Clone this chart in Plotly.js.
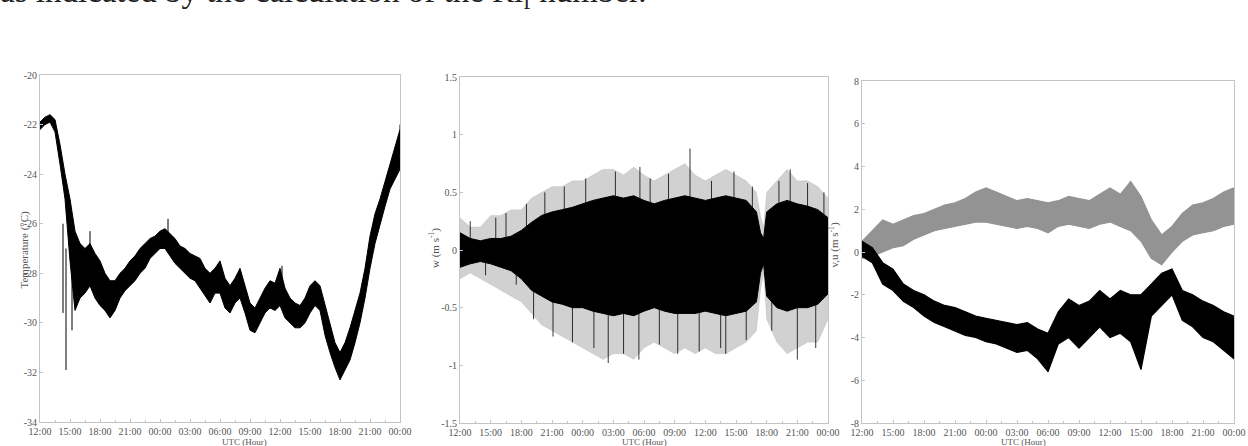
<!DOCTYPE html>
<html><head><meta charset="utf-8">
<script src="https://cdn.plot.ly/plotly-3.0.1.min.js"></script>
<style>html,body{margin:0;padding:0;background:#fff;overflow:hidden;} #chart{width:1248px;height:446px;}</style>
</head><body><div id="chart"></div>
<script>
// ---- shared time axis (hours after 12:00 UTC on day 1) ----
const tickHours = [0,3,6,9,12,15,18,21,24,27,30,33,36];
const tickLabels = ["12:00","15:00","18:00","21:00","00:00","03:00","06:00","09:00","12:00","15:00","18:00","21:00","00:00"];

// ---- panel 1: temperature envelope ----
const tHours = [0,0.5,1,1.5,2,2.5,3,3.5,4,4.5,5,5.5,6,6.5,7,7.5,8,8.5,9,9.5,10,10.5,11,11.5,12,12.5,13,13.5,14,14.5,15,15.5,16,16.5,17,17.5,18,18.5,19,19.5,20,20.5,21,21.5,22,22.5,23,23.5,24,24.5,25,25.5,26,26.5,27,27.5,28,28.5,29,29.5,30,30.5,31,31.5,32,32.5,33,33.5,34,34.5,35,35.5,36];
const tempHigh = [-21.9,-21.7,-21.6,-21.8,-22.8,-24.0,-25.0,-26.3,-26.8,-27.0,-26.8,-27.2,-27.5,-28.0,-28.3,-28.3,-28.0,-27.8,-27.5,-27.3,-27.0,-26.8,-26.6,-26.5,-26.3,-26.2,-26.4,-26.6,-26.9,-27.0,-27.2,-27.3,-27.4,-27.8,-28.0,-27.8,-27.5,-28.2,-28.5,-28.2,-27.8,-28.5,-29.2,-29.4,-29.0,-28.6,-28.3,-28.4,-27.8,-28.6,-29.0,-29.2,-29.3,-29.0,-28.5,-28.3,-28.5,-29.3,-30.0,-30.8,-31.2,-30.8,-30.2,-29.5,-28.8,-27.8,-26.5,-25.6,-25.0,-24.3,-23.6,-23.0,-22.2];
const tempLow  = [-22.2,-22.0,-21.9,-22.3,-23.6,-25.0,-27.5,-29.5,-29.0,-28.8,-28.5,-29.0,-29.3,-29.5,-29.8,-29.5,-29.0,-28.7,-28.5,-28.3,-28.0,-27.8,-27.4,-27.2,-27.0,-27.0,-27.3,-27.6,-27.8,-28.0,-28.2,-28.3,-28.6,-28.9,-29.2,-28.8,-28.8,-29.4,-29.6,-29.2,-29.0,-29.6,-30.3,-30.4,-30.0,-29.6,-29.4,-29.5,-29.3,-29.8,-30.0,-30.2,-30.2,-30.0,-29.6,-29.3,-29.5,-30.5,-31.2,-31.8,-32.3,-31.9,-31.5,-30.8,-30.0,-29.0,-27.8,-26.8,-26.0,-25.3,-24.6,-24.2,-23.8];
const tempSpikeHours = [2.3,2.6,3.2,5.0,12.8,24.2,36];
const tempSpikeFrom  = [-26.0,-27.0,-28.0,-27.0,-26.5,-28.5,-23.0];
const tempSpikeTo    = [-29.6,-31.9,-30.3,-26.3,-25.8,-27.7,-22.0];
const tempTicks = [-20,-22,-24,-26,-28,-30,-32,-34];
const tempTickLabels = ["-20","-22","-24","-26","-28","-30","-32","-34"];

// ---- panel 2: vertical velocity w ----
const wHours = [0,1,2,3,4,5,6,7,8,9,10,11,12,13,14,15,16,17,18,19,20,21,22,23,24,25,26,27,28,29,29.4,29.7,30,31,32,33,34,35,36];
const wCoreHigh = [0.15,0.10,0.08,0.10,0.10,0.12,0.17,0.24,0.30,0.33,0.35,0.37,0.40,0.43,0.45,0.47,0.45,0.47,0.43,0.40,0.43,0.45,0.47,0.45,0.43,0.45,0.47,0.45,0.43,0.33,0.15,0.10,0.33,0.40,0.43,0.40,0.38,0.35,0.28];
const wCoreLow  = [-0.15,-0.12,-0.10,-0.12,-0.15,-0.18,-0.25,-0.35,-0.40,-0.45,-0.47,-0.50,-0.50,-0.53,-0.55,-0.57,-0.55,-0.57,-0.53,-0.50,-0.53,-0.55,-0.55,-0.55,-0.53,-0.55,-0.57,-0.55,-0.53,-0.45,-0.20,-0.12,-0.40,-0.50,-0.53,-0.50,-0.50,-0.47,-0.38];
const wOuterHigh = [0.28,0.20,0.20,0.30,0.30,0.35,0.35,0.45,0.50,0.55,0.55,0.60,0.60,0.65,0.70,0.70,0.65,0.72,0.65,0.60,0.65,0.70,0.75,0.65,0.60,0.65,0.70,0.65,0.60,0.50,0.30,0.20,0.50,0.60,0.70,0.60,0.60,0.55,0.45];
const wOuterLow  = [-0.25,-0.20,-0.25,-0.30,-0.35,-0.40,-0.45,-0.55,-0.65,-0.70,-0.75,-0.80,-0.85,-0.90,-0.95,-0.90,-0.90,-0.95,-0.85,-0.80,-0.85,-0.90,-0.85,-0.90,-0.85,-0.90,-0.90,-0.85,-0.80,-0.70,-0.35,-0.20,-0.60,-0.80,-0.90,-0.85,-0.80,-0.80,-0.60];
const wSpikeHours = [1.0,2.5,3.5,4.5,5.5,6.5,7.2,8.3,9.1,10.2,11.0,12.3,13.1,14.5,15.2,16.0,17.5,17.6,18.6,19.5,20.4,21.3,22.5,23.4,24.6,25.5,26.0,26.8,28.0,28.6,30.5,31.2,32.3,33.0,34.0,34.8,35.6];
const wSpikeTip   = [0.25,-0.22,0.28,0.32,-0.30,0.40,-0.60,0.50,-0.75,0.55,-0.80,0.62,-0.85,-0.98,0.68,-0.90,-0.95,0.72,0.62,-0.82,0.66,-0.90,0.88,-0.88,0.60,-0.85,-0.90,0.68,-0.78,0.55,-0.70,0.60,0.70,-0.95,0.58,-0.85,0.50];
const wTicks = [1.5,1,0.5,0,-0.5,-1,-1.5];
const wTickLabels = ["1.5","1","0.5","0","-0.5","-1","-1.5"];

// ---- panel 3: horizontal components v (grey) and u (black) ----
const uvHours = [0,1,2,3,4,5,6,7,8,9,10,11,12,13,14,15,16,17,18,19,20,21,22,23,24,25,26,27,28,29,30,31,32,33,34,35,36];
const vHigh = [0.5,1.0,1.5,1.3,1.5,1.7,1.8,2.0,2.2,2.3,2.5,2.8,3.0,2.8,2.6,2.4,2.5,2.4,2.3,2.4,2.6,2.5,2.4,2.7,3.0,2.7,3.3,2.6,1.5,0.8,1.2,1.8,2.2,2.3,2.5,2.8,3.0];
const vLow  = [-0.3,-0.2,0.0,0.2,0.3,0.6,0.8,1.0,1.1,1.2,1.3,1.4,1.4,1.3,1.2,1.1,1.2,1.1,0.9,1.2,1.3,1.2,1.1,1.3,1.4,1.2,1.0,0.5,-0.3,-0.6,0.0,0.5,0.8,0.9,1.0,1.2,1.3];
const uHigh = [0.5,0.2,-0.5,-0.8,-1.5,-1.8,-2.0,-2.3,-2.5,-2.6,-2.8,-3.0,-3.1,-3.2,-3.3,-3.4,-3.3,-3.6,-3.8,-2.8,-2.2,-2.5,-2.3,-1.8,-2.2,-1.8,-2.0,-2.0,-1.5,-1.0,-0.8,-1.8,-2.0,-2.3,-2.5,-2.8,-3.0];
const uLow  = [-0.2,-0.5,-1.5,-1.8,-2.3,-2.6,-3.0,-3.3,-3.5,-3.7,-3.9,-4.0,-4.2,-4.3,-4.5,-4.7,-4.6,-5.0,-5.6,-4.3,-4.0,-4.5,-4.0,-3.5,-4.0,-3.8,-4.2,-5.5,-3.0,-2.5,-2.0,-3.2,-3.5,-4.0,-4.2,-4.6,-5.0];
const uvTicks = [8,6,4,2,0,-2,-4,-6,-8];
const uvTickLabels = ["8","6","4","2","0","-2","-4","-6","-8"];

// ---- styling ----
const FONT = "Liberation Serif, DejaVu Serif, serif";
const AXC = "#c4c4c4";
const GREY = "#939393";

function band(x, hi, lo, xa, ya, color, fillcolor, w) {
  return [
    {x: x, y: hi, xaxis: xa, yaxis: ya, type: "scatter", mode: "lines",
     line: {color: color, width: w}, hoverinfo: "skip", showlegend: false},
    {x: x, y: lo, xaxis: xa, yaxis: ya, type: "scatter", mode: "lines", fill: "tonexty",
     fillcolor: fillcolor, line: {color: color, width: w}, hoverinfo: "skip", showlegend: false}
  ];
}
function spikes(hs, from, to, xa, ya, color, w) {
  const xs = [], ys = [];
  hs.forEach((h, i) => { xs.push(h, h, null); ys.push(from[i], to[i], null); });
  return {x: xs, y: ys, xaxis: xa, yaxis: ya, type: "scatter", mode: "lines",
          line: {color: color, width: w}, hoverinfo: "skip", showlegend: false};
}

const traces = [];
traces.push(...band(tHours, tempHigh, tempLow, "x", "y", "#000", "#000", 1));
traces.push(spikes(tempSpikeHours, tempSpikeFrom, tempSpikeTo, "x", "y", "#000", 1));
traces.push(...band(wHours, wOuterHigh, wOuterLow, "x2", "y2", "rgba(0,0,0,0.12)", "rgba(0,0,0,0.18)", 0.6));
traces.push(...band(wHours, wCoreHigh, wCoreLow, "x2", "y2", "#000", "#000", 1));
traces.push(spikes(wSpikeHours, wSpikeHours.map(() => 0), wSpikeTip, "x2", "y2", "#000", 0.8));
traces.push(...band(uvHours, vHigh, vLow, "x3", "y3", GREY, GREY, 1.2));
traces.push(...band(uvHours, uHigh, uLow, "x3", "y3", "#000", "#000", 1.2));

function xax(domain, anchor) {
  return {domain: domain, anchor: anchor, range: [0, 36], tickmode: "array",
    tickvals: tickHours, ticktext: tickLabels, showline: true, mirror: true,
    linecolor: AXC, linewidth: 1, ticks: "inside", ticklen: 3, tickcolor: AXC,
    showgrid: false, zeroline: false, ticklabelstandoff: 0, ticklabeloverflow: "allow",
    minor: {dtick: 1.5, ticklen: 2, tickcolor: AXC, ticks: "inside"},
    tickfont: {family: FONT, size: 10, color: "#555"}};
}
function yax(domain, anchor, range, vals, labels) {
  return {domain: domain, anchor: anchor, range: range, tickmode: "array",
    tickvals: vals, ticktext: labels, showline: true, mirror: true,
    linecolor: AXC, linewidth: 1, ticks: "inside", ticklen: 3, tickcolor: AXC,
    showgrid: false, zeroline: false, ticklabelstandoff: 0, ticklabeloverflow: "allow",
    tickfont: {family: FONT, size: 10, color: "#555"}};
}
const H = 446, W = 1248;
const py = p => (H - p) / H, px = p => p / W;

const layout = {
  width: W, height: H, margin: {l: 0, r: 0, t: 0, b: 0},
  paper_bgcolor: "#fff", plot_bgcolor: "#fff", showlegend: false,
  xaxis: xax([px(40), px(400)], "y"),
  yaxis: yax([py(422), py(75)], "x", [-34, -20], tempTicks, tempTickLabels),
  xaxis2: xax([px(460), px(828)], "y2"),
  yaxis2: yax([py(423), py(77)], "x2", [-1.5, 1.5], wTicks, wTickLabels),
  xaxis3: xax([px(862), px(1234)], "y3"),
  yaxis3: yax([py(423), py(81)], "x3", [-8, 8], uvTicks, uvTickLabels),
  annotations: [
    {text: "as indicated by the calculation of the Ri<sub>f</sub> number.", xref: "paper", yref: "paper",
     x: 0, xanchor: "left", xshift: -2, y: py(-6), yanchor: "middle", showarrow: false,
     font: {family: FONT, size: 33, color: "#222"}},
    {text: "UTC (Hour)", xref: "paper", yref: "paper", x: px(220), y: py(442), yanchor: "middle",
     showarrow: false, font: {family: FONT, size: 9, color: "#555"}},
    {text: "UTC (Hour)", xref: "paper", yref: "paper", x: px(644), y: py(442), yanchor: "middle",
     showarrow: false, font: {family: FONT, size: 9, color: "#555"}},
    {text: "UTC (Hour)", xref: "paper", yref: "paper", x: px(1048), y: py(442), yanchor: "middle",
     showarrow: false, font: {family: FONT, size: 9, color: "#555"}},
    {text: "Temperature (°C)", xref: "paper", yref: "paper", x: px(15), y: py(250), textangle: -90,
     showarrow: false, font: {family: FONT, size: 11, color: "#555"}},
    {text: "w (m s<sup>-1</sup>)", xref: "paper", yref: "paper", x: px(434), y: py(248), textangle: -90,
     showarrow: false, font: {family: FONT, size: 11, color: "#555"}},
    {text: "v,u (m s<sup>-1</sup>)", xref: "paper", yref: "paper", x: px(844), y: py(245), textangle: -90,
     showarrow: false, font: {family: FONT, size: 11, color: "#555"}}
  ]
};

Plotly.newPlot("chart", traces, layout, {staticPlot: true, displayModeBar: false});
</script>
</body></html>
